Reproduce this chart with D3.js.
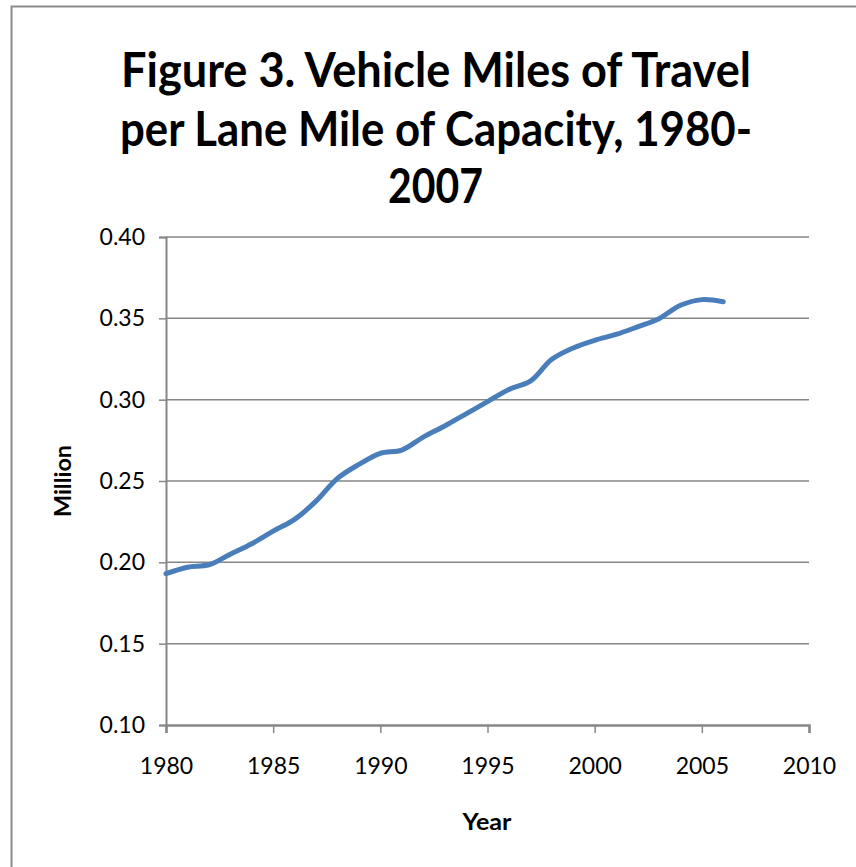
<!DOCTYPE html>
<html>
<head>
<meta charset="utf-8">
<script src="https://cdn.jsdelivr.net/npm/d3@7"></script>
<style>
  html, body { margin: 0; padding: 0; background: #fff; }
  svg { display: block; }
</style>
</head>
<body>
<svg id="chart" width="856" height="867"></svg>
<script>
// Vehicle miles of travel per lane mile (millions), by year
const years = [1980, 1981, 1982, 1983, 1984, 1985, 1986, 1987, 1988, 1989,
               1990, 1991, 1992, 1993, 1994, 1995, 1996, 1997, 1998, 1999,
               2000, 2001, 2002, 2003, 2004, 2005, 2006];
const vmtPerLaneMile = [0.193, 0.197, 0.1985, 0.205, 0.2114, 0.2192, 0.2264, 0.2376, 0.2516, 0.2602,
                        0.2670, 0.2690, 0.2770, 0.2838, 0.2913, 0.2988, 0.3063, 0.3114, 0.3248, 0.3318,
                        0.3365, 0.3401, 0.3448, 0.3498, 0.3580, 0.3615, 0.3602];
const xTicks = [1980, 1985, 1990, 1995, 2000, 2005, 2010];
const yTicks = [0.10, 0.15, 0.20, 0.25, 0.30, 0.35, 0.40];
const titleLines = ["Figure 3. Vehicle Miles of Travel", "per Lane Mile of Capacity, 1980-", "2007"];

const svg = d3.select("#chart");
const font = "Lato, 'Open Sans', sans-serif";
const axisGray = "#868686";

// chart frame
svg.append("rect")
  .attr("x", 11.5).attr("y", 6.5)
  .attr("width", 900).attr("height", 900)
  .attr("fill", "none").attr("stroke", "#8c8c8c").attr("stroke-width", 2);

const plot = { left: 166, right: 809, top: 237, bottom: 725 };

const x = d3.scaleLinear().domain([1980, 2010]).range([plot.left, plot.right]);
const y = d3.scaleLinear().domain([0.10, 0.40]).range([plot.bottom, plot.top]);

// title
const titleWidths = [630, 632, 95];
const titleY = [87, 146, 203];
svg.append("g").selectAll("text")
  .data(titleLines)
  .join("text")
  .attr("x", (d, i) => i === 2 ? 435.5 : 436)
  .attr("y", (d, i) => titleY[i])
  .attr("text-anchor", "middle")
  .attr("font-family", font)
  .attr("font-weight", "bold")
  .attr("font-size", 48)
  .attr("textLength", (d, i) => titleWidths[i])
  .attr("lengthAdjust", "spacingAndGlyphs")
  .attr("fill", "#000")
  .text(d => d);

// horizontal gridlines
svg.append("g").selectAll("line")
  .data(yTicks.slice(1))
  .join("line")
  .attr("x1", plot.left).attr("x2", plot.right)
  .attr("y1", d => y(d)).attr("y2", d => y(d))
  .attr("stroke", axisGray).attr("stroke-width", 1.5);

// y axis
const yAxis = svg.append("g")
  .attr("transform", `translate(${plot.left},0)`)
  .call(d3.axisLeft(y).tickValues(yTicks).tickFormat(d3.format(".2f")).tickSize(7).tickPadding(14));
yAxis.select(".domain").attr("stroke", axisGray).attr("stroke-width", 2);
yAxis.selectAll(".tick line").attr("stroke", axisGray).attr("stroke-width", 1.5);
yAxis.selectAll(".tick text")
  .attr("font-family", font).attr("font-size", 23).attr("fill", "#000");

// x axis
const xAxis = svg.append("g")
  .attr("transform", `translate(0,${plot.bottom})`)
  .call(d3.axisBottom(x).tickValues(xTicks).tickFormat(d3.format("d")).tickSize(8).tickPadding(25));
xAxis.select(".domain").attr("stroke", axisGray).attr("stroke-width", 2.5);
xAxis.selectAll(".tick line").attr("stroke", axisGray).attr("stroke-width", 1.5);
xAxis.selectAll(".tick text")
  .attr("font-family", font).attr("font-size", 23).attr("fill", "#000");

// axis titles
svg.append("text")
  .attr("transform", `translate(71,481) rotate(-90)`)
  .attr("text-anchor", "middle")
  .attr("font-family", font).attr("font-weight", "bold").attr("font-size", 22)
  .attr("textLength", 72).attr("lengthAdjust", "spacingAndGlyphs")
  .text("Million");

svg.append("text")
  .attr("x", 487).attr("y", 830)
  .attr("text-anchor", "middle")
  .attr("font-family", font).attr("font-weight", "bold").attr("font-size", 22)
  .attr("textLength", 49).attr("lengthAdjust", "spacingAndGlyphs")
  .text("Year");

// data line
const series = years.map((yr, i) => ({ year: yr, value: vmtPerLaneMile[i] }));
svg.append("path")
  .datum(series)
  .attr("fill", "none")
  .attr("stroke", "#4a7ebb")
  .attr("stroke-width", 5)
  .attr("stroke-linecap", "round")
  .attr("stroke-linejoin", "round")
  .attr("d", d3.line()
    .x(d => x(d.year))
    .y(d => y(d.value))
    .curve(d3.curveCatmullRom.alpha(0.5)));
</script>
</body>
</html>
